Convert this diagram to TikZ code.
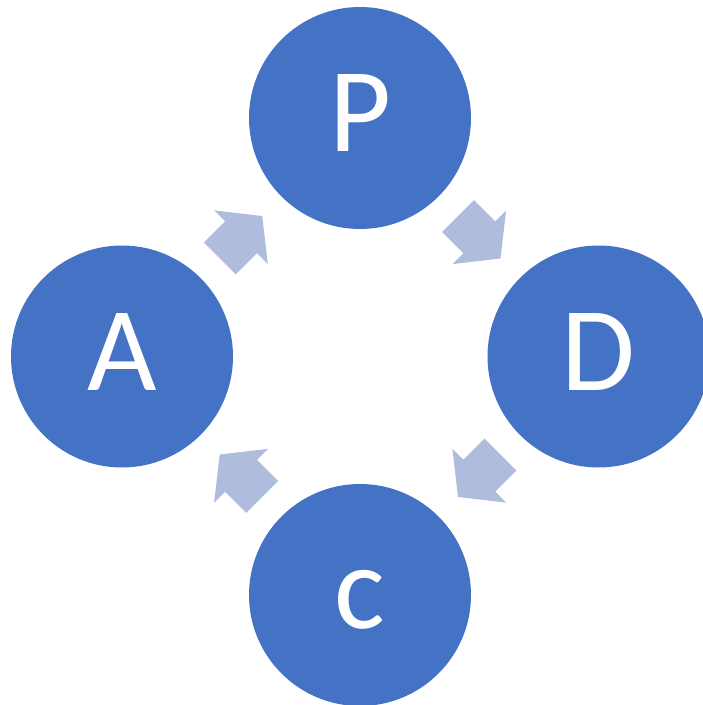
\documentclass[tikz,border=0pt]{standalone}
\usepackage{fontspec}
\setmainfont{Carlito}
\usetikzlibrary{calc}

\definecolor{phaseblue}{RGB}{68,114,196}
\definecolor{arrowblue}{RGB}{175,188,222}

\tikzset{
    phase/.style={circle, fill=phaseblue, text=white, minimum size=222pt, inner sep=0pt,
        font=\fontsize{120}{120}\selectfont, text height=68pt, text depth=0pt},
    pics/cyclearrow/.style={code={
        \fill[arrowblue] (-30,-22.5) -- (0,-22.5) -- (0,-38) -- (30,0) -- (0,38) -- (0,22.5) -- (-30,22.5) -- cycle;
    }}
}

\begin{document}
\begin{tikzpicture}[x=1pt, y=1pt]
    \clip (0,0) rectangle (703,705);
    \fill[white] (0,0) rectangle (703,705);

    % Phases
    \node[phase] (P) at (360,587) {P};
    \node[phase] (D) at (598.5,348.5) {D};
    \node[phase] (C) at (360,110) {c};
    \node[phase] (A) at (122,348.5) {A};

    % Arrows
    \pic[rotate=-45] at ($(P)!0.5!(D)$) {cyclearrow};
    \pic[rotate=-135] at ($(D)!0.5!(C)$) {cyclearrow};
    \pic[rotate=135] at ($(C)!0.5!(A)$) {cyclearrow};
    \pic[rotate=45] at ($(A)!0.5!(P)$) {cyclearrow};
\end{tikzpicture}
\end{document}
